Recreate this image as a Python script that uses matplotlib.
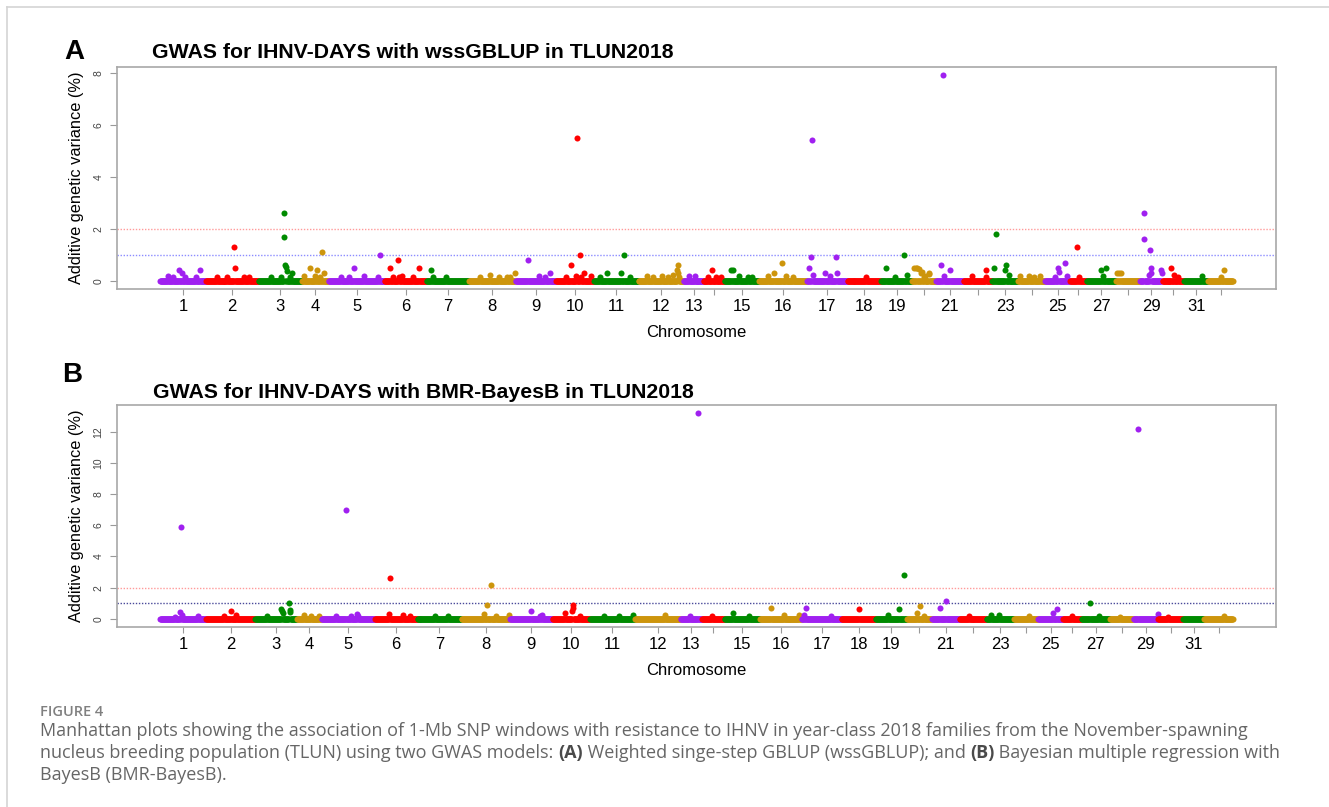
import numpy as np
import matplotlib.pyplot as plt

chrom_windows_a = [92, 106, 87, 53, 113, 84, 85, 93, 82, 76, 89, 90, 41, 42, 69, 96,
                   81, 68, 62, 48, 55, 57, 53, 54, 50, 33, 59, 48, 45, 44, 48, 50]
chrom_windows_b = [92, 99, 84, 49, 107, 85, 89, 97, 85, 75, 91, 91, 43, 45, 71, 84,
                   80, 68, 63, 50, 55, 55, 55, 48, 50, 37, 57, 47, 50, 50, 42, 58]

chrom_labels = ["1", "2", "3", "4", "5", "6", "7", "8", "9", "10", "11", "12", "13", "",
                "15", "16", "17", "18", "19", "", "21", "", "23", "", "25", "", "27", "",
                "29", "", "31", ""]

# windows above the baseline: (chromosome, window in chromosome, % additive variance)
peaks_a = [
    (1, 17, 0.19), (1, 27, 0.13), (1, 39, 0.41), (1, 45, 0.31), (1, 51, 0.13), (1, 73, 0.13), (1, 80, 0.40),
    (2, 23, 0.13), (2, 43, 0.13), (2, 58, 1.29), (2, 59, 0.50), (2, 78, 0.13), (2, 88, 0.13),
    (3, 25, 0.13), (3, 45, 0.13), (3, 51, 2.60), (3, 52, 1.70), (3, 53, 0.60), (3, 55, 0.53),
    (3, 57, 0.38), (3, 63, 0.13), (3, 68, 0.29),
    (4, 4, 0.19), (4, 16, 0.50), (4, 26, 0.19), (4, 30, 0.41), (4, 37, 0.13), (4, 41, 1.10), (4, 45, 0.31),
    (5, 25, 0.13), (5, 42, 0.13), (5, 51, 0.50), (5, 72, 0.19), (5, 99, 0.13), (5, 103, 1.00),
    (6, 12, 0.50), (6, 17, 0.13), (6, 27, 0.81), (6, 29, 0.13), (6, 36, 0.20), (6, 57, 0.13), (6, 69, 0.50),
    (7, 9, 0.41), (7, 13, 0.13), (7, 40, 0.13),
    (8, 23, 0.13), (8, 42, 0.22), (8, 60, 0.13), (8, 77, 0.13), (8, 83, 0.13), (8, 92, 0.31),
    (9, 25, 0.81), (9, 47, 0.19), (9, 60, 0.13), (9, 71, 0.31),
    (10, 21, 0.13), (10, 30, 0.60), (10, 41, 0.19), (10, 42, 5.50), (10, 48, 1.00), (10, 51, 0.13),
    (10, 57, 0.31), (10, 71, 0.20),
    (11, 12, 0.13), (11, 27, 0.31), (11, 55, 0.31), (11, 60, 1.00), (11, 72, 0.13),
    (12, 17, 0.19), (12, 30, 0.13), (12, 47, 0.19), (12, 60, 0.13), (12, 70, 0.22), (12, 77, 0.41),
    (12, 79, 0.60), (12, 80, 0.31), (12, 82, 0.13),
    (13, 12, 0.19), (13, 23, 0.19),
    (14, 9, 0.13), (14, 17, 0.40), (14, 25, 0.13), (14, 35, 0.13),
    (15, 13, 0.41), (15, 18, 0.41), (15, 30, 0.19), (15, 48, 0.13), (15, 56, 0.13),
    (16, 18, 0.19), (16, 31, 0.28), (16, 47, 0.69), (16, 55, 0.19), (16, 68, 0.13),
    (17, 4, 0.50), (17, 9, 0.90), (17, 10, 5.40), (17, 13, 0.22), (17, 37, 0.31), (17, 47, 0.19),
    (17, 59, 0.90), (17, 60, 0.31),
    (18, 38, 0.13),
    (19, 10, 0.50), (19, 29, 0.13), (19, 47, 1.00), (19, 53, 0.22),
    (20, 5, 0.50), (20, 8, 0.50), (20, 11, 0.50), (20, 14, 0.45), (20, 18, 0.31), (20, 21, 0.35),
    (20, 25, 0.13), (20, 27, 0.20), (20, 34, 0.31), (20, 35, 0.25),
    (21, 10, 0.60), (21, 15, 7.90), (21, 16, 0.20), (21, 28, 0.40),
    (22, 17, 0.19), (22, 45, 0.40), (22, 46, 0.13),
    (23, 5, 0.50), (23, 8, 1.79), (23, 27, 0.40), (23, 29, 0.60), (23, 34, 0.22),
    (24, 5, 0.19), (24, 22, 0.19), (24, 32, 0.13), (24, 45, 0.19),
    (25, 21, 0.13), (25, 27, 0.50), (25, 29, 0.35), (25, 41, 0.70), (25, 45, 0.20),
    (26, 15, 1.29), (26, 18, 0.13),
    (27, 30, 0.40), (27, 33, 0.20), (27, 40, 0.50),
    (28, 2, 0.31), (28, 6, 0.31), (28, 11, 0.31),
    (29, 8, 2.60), (29, 9, 1.60), (29, 19, 0.22), (29, 21, 1.19), (29, 22, 0.50), (29, 23, 0.31),
    (29, 42, 0.40), (29, 44, 0.28),
    (30, 19, 0.50), (30, 25, 0.22), (30, 32, 0.13),
    (31, 36, 0.19),
    (32, 27, 0.13), (32, 32, 0.40),
]

peaks_b = [
    (1, 30, 0.10), (1, 40, 0.43), (1, 43, 5.87), (1, 44, 0.26), (1, 77, 0.15),
    (2, 36, 0.15), (2, 50, 0.51), (2, 61, 0.26),
    (3, 25, 0.15), (3, 52, 0.62), (3, 54, 0.47), (3, 56, 0.36), (3, 69, 1.00), (3, 70, 0.58), (3, 71, 0.41),
    (4, 15, 0.26), (4, 28, 0.15), (4, 45, 0.15),
    (5, 30, 0.15), (5, 50, 6.99), (5, 60, 0.19), (5, 72, 0.30), (5, 74, 0.20),
    (6, 29, 0.32), (6, 30, 2.61), (6, 57, 0.26), (6, 70, 0.15),
    (7, 37, 0.15), (7, 62, 0.15),
    (8, 45, 0.30), (8, 52, 0.90), (8, 59, 2.20), (8, 70, 0.15), (8, 96, 0.26),
    (9, 43, 0.51), (9, 60, 0.19), (9, 65, 0.26),
    (10, 25, 0.36), (10, 40, 0.47), (10, 41, 0.69), (10, 42, 0.90), (10, 55, 0.15),
    (11, 30, 0.15), (11, 60, 0.15), (11, 88, 0.26),
    (12, 60, 0.26),
    (13, 20, 0.19), (13, 35, 13.20),
    (14, 20, 0.15),
    (15, 18, 0.36), (15, 50, 0.15),
    (16, 23, 0.71), (16, 49, 0.26), (16, 80, 0.26),
    (17, 6, 0.26), (17, 9, 0.71), (17, 60, 0.15),
    (18, 35, 0.60),
    (19, 25, 0.26), (19, 47, 0.60), (19, 57, 2.80),
    (20, 20, 0.36), (20, 27, 0.81), (20, 35, 0.20),
    (21, 16, 0.71), (21, 29, 1.11),
    (22, 20, 0.15),
    (23, 9, 0.26), (23, 25, 0.26),
    (24, 30, 0.15),
    (25, 30, 0.36), (25, 38, 0.60),
    (26, 18, 0.15),
    (27, 17, 1.00), (27, 35, 0.15),
    (28, 20, 0.12),
    (29, 9, 12.19), (29, 49, 0.30),
    (30, 20, 0.12),
    (32, 40, 0.15),
]

cores = ["#a020f0", "#ff0000", "#008b00", "#cd950c"]
W, H = 1329, 807

plt.rcParams["font.family"] = ["Liberation Sans", "DejaVu Sans"]
fig = plt.figure(figsize=(W / 100, H / 100), dpi=100)


def eixo_px(left, top, right, bottom):
    return fig.add_axes([left / W, 1 - bottom / H, (right - left) / W, (bottom - top) / H])


def monta_serie(windows, peaks):
    windows = np.array(windows)
    offsets = np.concatenate([[0], np.cumsum(windows)[:-1]])
    x = np.arange(1, windows.sum() + 1)
    y = np.zeros(len(x))
    chrom = np.repeat(np.arange(1, len(windows) + 1), windows)
    for c, pos, val in peaks:
        y[offsets[c - 1] + pos - 1] = val
    centros = offsets + (windows + 1) / 2
    return x, y, chrom, centros


def manhattan(ax, windows, peaks, yticks, linha_azul):
    x, y, chrom, centros = monta_serie(windows, peaks)
    for i in range(len(windows)):
        m = chrom == i + 1
        ax.scatter(x[m], y[m], s=19, color=cores[i % 4], linewidths=0, zorder=3)
    ax.axhline(2, color="#ff9a9a", lw=1, ls=(0, (1, 1.2)), zorder=2)
    ax.axhline(1, color=linha_azul, lw=1, ls=(0, (1, 1.2)), zorder=2)

    pad = 0.04 * (x.max() - x.min())
    ax.set_xlim(x.min() - pad, x.max() + pad)
    ax.set_ylim(-0.04 * y.max(), 1.04 * y.max())

    ax.set_xticks(centros)
    ax.set_xticklabels(chrom_labels, fontsize=12)
    ax.set_yticks(yticks)
    ax.set_yticklabels([str(t) for t in yticks], fontsize=7.5, color="#444444",
                       rotation=90, va="center")
    ax.tick_params(axis="x", length=4.3, width=0.8, color="#999999", pad=3)
    ax.tick_params(axis="y", length=5, width=0.8, color="#999999", pad=5)
    for sp in ax.spines.values():
        sp.set_color("#a8a8a8")
        sp.set_linewidth(1.2)
    ax.set_xlabel("Chromosome", fontsize=12, labelpad=8)
    ax.set_ylabel("Additive genetic variance (%)", fontsize=11.8, labelpad=7)


ax_a = eixo_px(117.3, 67, 1275.7, 289)
manhattan(ax_a, chrom_windows_a, peaks_a, [0, 2, 4, 6, 8], "#8c8cff")
ax_b = eixo_px(117.3, 405, 1275.7, 627)
manhattan(ax_b, chrom_windows_b, peaks_b, [0, 2, 4, 6, 8, 10, 12], "#4a4a9a")

fig.text(64 / W, 1 - 52 / H, "A", fontsize=20, fontweight="bold", va="center")
fig.text(152 / W, 1 - 53 / H, "GWAS for IHNV-DAYS with wssGBLUP in TLUN2018",
         fontsize=15.3, fontweight="bold", va="center")
fig.text(62 / W, 1 - 375.5 / H, "B", fontsize=20, fontweight="bold", va="center")
fig.text(152.7 / W, 1 - 392 / H, "GWAS for IHNV-DAYS with BMR-BayesB in TLUN2018",
         fontsize=15.3, fontweight="bold", va="center")

# moldura da página
fig.add_artist(plt.Line2D([7.3 / W, 1], [1 - 7.3 / H] * 2, color="#d4d4d4", lw=1.2))
fig.add_artist(plt.Line2D([7.3 / W] * 2, [0, 1 - 7.3 / H], color="#d4d4d4", lw=1.2))

# legenda da figura
fig.text(40 / W, 1 - 712 / H, "FIGURE 4", fontsize=10.5, fontweight="semibold",
         color="#808080", family="Open Sans", va="center")

linhas = [
    [("Manhattan plots showing the association of 1-Mb SNP windows with resistance to IHNV "
      "in year-class 2018 families from the November-spawning", "normal")],
    [("nucleus breeding population (TLUN) using two GWAS models: ", "normal"), ("(A)", "bold"),
     (" Weighted singe-step GBLUP (wssGBLUP); and ", "normal"), ("(B)", "bold"),
     (" Bayesian multiple regression with", "normal")],
    [("BayesB (BMR-BayesB).", "normal")],
]
renderer = fig.canvas.get_renderer()
for k, partes in enumerate(linhas):
    xp = 40
    for texto, peso in partes:
        t = fig.text(xp / W, 1 - (731 + 22 * k) / H, texto, fontsize=13, fontweight=peso,
                     color="#4a4a4a" if peso == "bold" else "#666666",
                     family="Open Sans", va="center")
        xp += t.get_window_extent(renderer).width

fig.savefig("out.png", dpi=100)
